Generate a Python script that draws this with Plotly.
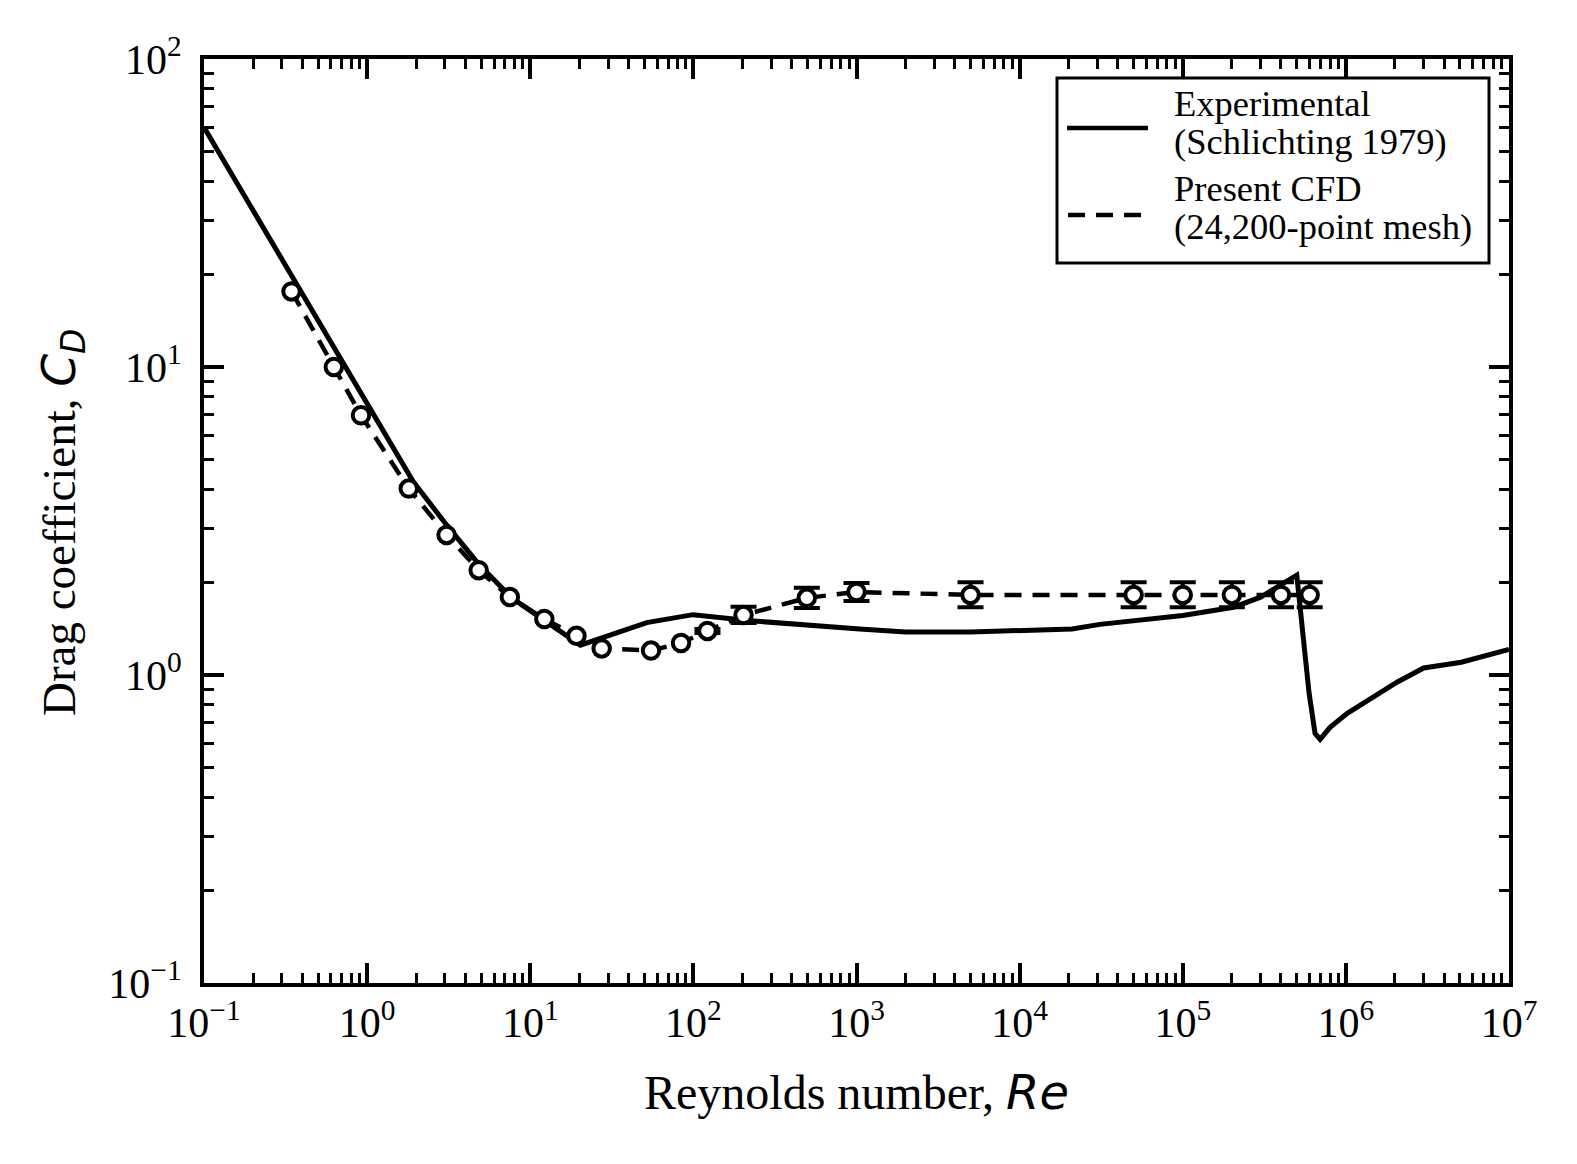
import plotly.graph_objects as go

# ---------------- data ----------------
exp_re = [0.1, 1.0, 1.92, 3.07, 4.9, 7.8, 12.7, 20.3, 51.8, 99.5, 224, 480, 1047, 2000,
          5000, 2.1e4, 3.1e4, 1.0e5, 2.05e5, 3.0e5, 5.0e5, 5.95e5, 6.47e5, 6.95e5,
          8.0e5, 1.02e6, 1.47e6, 2.07e6, 3.0e6, 5.1e6, 1.0e7]
exp_cd = [60.0, 7.7, 4.24, 3.07, 2.27, 1.77, 1.49, 1.25, 1.48, 1.57, 1.50, 1.45, 1.41, 1.38,
          1.38, 1.41, 1.46, 1.56, 1.66, 1.79, 2.11, 0.873, 0.646, 0.618,
          0.676, 0.751, 0.847, 0.949, 1.054, 1.10, 1.21]

cfd_re = [0.344, 0.625, 0.917, 1.8, 3.07, 4.83, 7.5, 12.2, 19.2, 27.4, 55, 84,
          122, 203, 496, 1000, 5000, 5e4, 1e5, 2e5, 4e5, 6e5]
cfd_cd = [17.6, 10.0, 6.97, 4.03, 2.85, 2.19, 1.79, 1.52, 1.34, 1.22, 1.20, 1.27,
          1.39, 1.565, 1.78, 1.86, 1.82, 1.82, 1.82, 1.82, 1.82, 1.82]
# error bars exist from the 13th CFD point onward
err_start = 12
cfd_err_plus = [0.02, 0.10, 0.14, 0.13, 0.18, 0.18, 0.18, 0.18, 0.18, 0.18]
cfd_err_minus = [0.02, 0.09, 0.13, 0.12, 0.16, 0.16, 0.16, 0.16, 0.16, 0.16]

x_tickvals = [1e-1, 1e0, 1e1, 1e2, 1e3, 1e4, 1e5, 1e6, 1e7]
x_ticktext = ["10<sup>\u22121</sup>", "10<sup>0</sup>", "10<sup>1</sup>", "10<sup>2</sup>",
              "10<sup>3</sup>", "10<sup>4</sup>", "10<sup>5</sup>", "10<sup>6</sup>",
              "10<sup>7</sup>"]
y_tickvals = [1e-1, 1e0, 1e1, 1e2]
y_ticktext = ["10<sup>\u22121</sup>", "10<sup>0</sup>", "10<sup>1</sup>", "10<sup>2</sup>"]

legend_labels = [("Experimental", "(Schlichting 1979)"),
                 ("Present CFD", "(24,200-point mesh)")]

# ---------------- figure ----------------
SERIF = "Liberation Serif, Times New Roman, serif"
fig = go.Figure()

fig.add_trace(go.Scatter(x=exp_re, y=exp_cd, mode="lines",
                         line=dict(color="black", width=5),
                         showlegend=False, cliponaxis=True))
fig.add_trace(go.Scatter(x=cfd_re, y=cfd_cd, mode="lines",
                         line=dict(color="black", width=4.5, dash="17px,11px"),
                         showlegend=False))
fig.add_trace(go.Scatter(x=cfd_re[:err_start], y=cfd_cd[:err_start], mode="markers",
                         marker=dict(symbol="circle", size=16.5, color="white",
                                     line=dict(color="black", width=4)),
                         showlegend=False, cliponaxis=False))
fig.add_trace(go.Scatter(x=cfd_re[err_start:], y=cfd_cd[err_start:], mode="markers",
                         marker=dict(symbol="circle", size=16.5, color="white",
                                     line=dict(color="black", width=4)),
                         error_y=dict(type="data", symmetric=False,
                                      array=cfd_err_plus, arrayminus=cfd_err_minus,
                                      color="black", thickness=4, width=13),
                         showlegend=False, cliponaxis=False))

# minor tick positions (axis decoration)
def minor_vals(lo, hi):
    out = []
    for k in range(lo, hi):
        for m in range(2, 10):
            out.append(m * 10.0 ** k)
    return out

axis_common = dict(
    type="log", showgrid=False, zeroline=False,
    showline=True, linewidth=4, linecolor="black", mirror="allticks",
    ticks="inside", ticklen=20, tickwidth=3.5, tickcolor="black",
    tickfont=dict(family=SERIF, size=42, color="black"),
)

fig.update_xaxes(range=[-1, 7], tickvals=x_tickvals, ticktext=x_ticktext,
                 minor=dict(ticks="inside", ticklen=10, tickwidth=2.5, tickcolor="black",
                            tickvals=minor_vals(-1, 7), showgrid=False),
                 ticklabelstandoff=0, **axis_common)
fig.update_yaxes(range=[-1, 2], tickvals=y_tickvals, ticktext=y_ticktext,
                 minor=dict(ticks="inside", ticklen=10, tickwidth=2.5, tickcolor="black",
                            tickvals=minor_vals(-1, 2), showgrid=False),
                 ticklabelstandoff=10, **axis_common)

L, R, T, B = 204, 68, 59, 181
W, H = 1577, 1164
pw, ph = W - L - R, H - T - B

def px(xp):
    return (xp - L) / pw

def py(yp):
    return (H - B - yp) / ph

shapes = []
# legend frame
shapes.append(dict(type="rect", xref="paper", yref="paper",
                   x0=px(1057), x1=px(1489), y0=py(263), y1=py(78),
                   line=dict(color="black", width=3), fillcolor="white", layer="above"))
shapes.append(dict(type="line", xref="paper", yref="paper",
                   x0=px(1067), x1=px(1148), y0=py(128), y1=py(128),
                   line=dict(color="black", width=4.5), layer="above"))
shapes.append(dict(type="line", xref="paper", yref="paper",
                   x0=px(1068), x1=px(1142), y0=py(215), y1=py(215),
                   line=dict(color="black", width=4.5, dash="17px,11px"), layer="above"))

annotations = []
leg_y = [(104, 141), (189, 226)]
for (l1, l2), (y1, y2) in zip(legend_labels, leg_y):
    for txt, yy in ((l1, y1), (l2, y2)):
        annotations.append(dict(text=txt, xref="paper", yref="paper",
                                x=px(1172), y=py(yy), xanchor="left", yanchor="middle",
                                showarrow=False,
                                font=dict(family=SERIF, size=36.5, color="black")))

annotations.append(dict(
    text="Reynolds number, <span style=\"font-family:DejaVu Sans\"><i>Re</i></span>",
    xref="paper", yref="paper", x=px(856), y=py(1092), xanchor="center", yanchor="middle",
    showarrow=False, font=dict(family=SERIF, size=48, color="black")))
annotations.append(dict(
    text="Drag coefficient, <span style=\"font-family:DejaVu Sans\"><i>C</i><sub><i>D</i></sub></span>",
    xref="paper", yref="paper", x=px(62), y=py(523), xanchor="center", yanchor="middle",
    textangle=-90, showarrow=False, font=dict(family=SERIF, size=47, color="black")))

fig.update_layout(
    width=W, height=H,
    margin=dict(l=L, r=R, t=T, b=B),
    paper_bgcolor="white", plot_bgcolor="white",
    showlegend=False,
    shapes=shapes, annotations=annotations,
)

fig.write_html("out.html")
